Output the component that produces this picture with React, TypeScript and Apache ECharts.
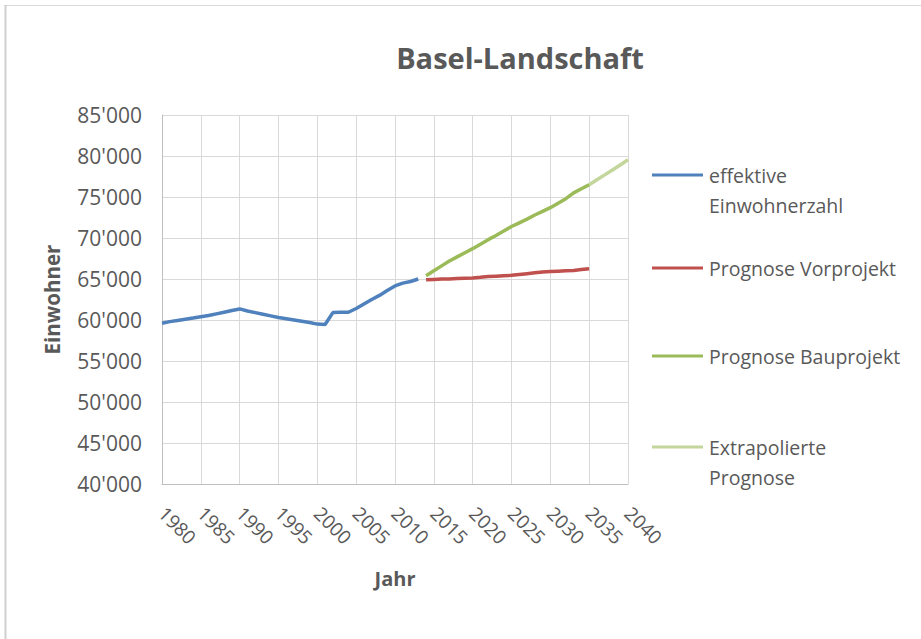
import React, { useEffect, useRef } from "react";
import * as echarts from "echarts";

const effYears = [1980,1981,1982,1983,1984,1985,1986,1987,1988,1989,1990,1991,1992,1993,1994,1995,1996,1997,1998,1999,2000,2001,2002,2003,2004,2005,2006,2007,2008,2009,2010,2011,2012,2013];
const effValues = [59600,59800,59950,60100,60250,60400,60550,60750,60950,61150,61350,61100,60900,60700,60500,60300,60150,60000,59850,59700,59500,59450,60900,60950,60950,61400,61950,62500,63000,63600,64150,64500,64700,65000];

const progYears = [2014,2015,2016,2017,2018,2019,2020,2021,2022,2023,2024,2025,2026,2027,2028,2029,2030,2031,2032,2033,2034,2035];
const vorValues = [64900,64950,65000,65000,65050,65100,65120,65200,65300,65350,65400,65450,65550,65650,65750,65850,65900,65950,66000,66050,66150,66250];
const bauValues = [65400,66000,66600,67200,67700,68200,68700,69250,69800,70300,70850,71400,71850,72300,72800,73250,73700,74250,74800,75500,76000,76500];

const extraYears = [2035,2036,2037,2038,2039,2040];
const extraValues = [76500,77100,77700,78300,78900,79550];

const seriesNames = ["effektive\nEinwohnerzahl", "Prognose Vorprojekt", "Prognose Bauprojekt", "Extrapolierte\nPrognose"];
const seriesColors = ["#4f81bd", "#c0504d", "#9bbb59", "#c3d69b"];

const xMin = 1980, xMax = 2040, xStep = 5;
const yMin = 40000, yMax = 85000, yStep = 5000;

const pairs = (xs: number[], ys: number[]) => xs.map((x, i) => [x, ys[i]]);

const FONT = "'Open Sans', sans-serif";
const GREY = "#595959";

export default function App() {
  const ref = useRef<HTMLDivElement>(null);
  useEffect(() => {
    if (!ref.current) return;
    const chart = echarts.init(ref.current, undefined, { renderer: "svg" });
    const data = [
      pairs(effYears, effValues),
      pairs(progYears, vorValues),
      pairs(progYears, bauValues),
      pairs(extraYears, extraValues),
    ];
    const legendY = [175, 268, 356, 447];
    const graphic: any[] = [
      { type: "line", shape: { x1: 4, y1: 5.5, x2: 921, y2: 5.5 }, style: { stroke: "#d9d9d9", lineWidth: 1 } },
      { type: "line", shape: { x1: 5.5, y1: 5, x2: 5.5, y2: 639 }, style: { stroke: "#d0d0d0", lineWidth: 2 } },
    ];
    seriesNames.forEach((n, i) => {
      graphic.push({ type: "line", shape: { x1: 652, y1: legendY[i], x2: 703, y2: legendY[i] }, style: { stroke: seriesColors[i], lineWidth: 3 } });
      graphic.push({ type: "text", x: 709, y: legendY[i] - 15, style: { text: n, fill: GREY, font: `19.5px ${FONT}`, lineHeight: 30, textVerticalAlign: "top" } });
    });
    chart.setOption({
      animation: false,
      backgroundColor: "#ffffff",
      title: {
        text: "Basel-Landschaft",
        left: 515,
        top: 38,
        textAlign: "center",
        textStyle: { fontFamily: FONT, fontSize: 29, fontWeight: "bold", color: GREY },
      },
      grid: { left: 162, right: 293, top: 115, bottom: 155 },
      xAxis: {
        type: "value",
        min: xMin,
        max: xMax,
        interval: xStep,
        name: "Jahr",
        nameLocation: "middle",
        nameGap: 84,
        nameTextStyle: { fontFamily: FONT, fontSize: 20, fontWeight: "bold", color: GREY },
        axisLine: { show: true, lineStyle: { color: "#bfbfbf" } },
        axisTick: { show: false },
        splitLine: { show: true, lineStyle: { color: "#d9d9d9" } },
        axisLabel: {
          rotate: -45,
          margin: 26,
          fontFamily: FONT,
          fontSize: 19,
          color: GREY,
          formatter: (v: number) => String(v),
        },
      },
      yAxis: {
        type: "value",
        min: yMin,
        max: yMax,
        interval: yStep,
        name: "Einwohner",
        nameLocation: "middle",
        nameGap: 100,
        nameTextStyle: { fontFamily: FONT, fontSize: 20.5, fontWeight: "bold", color: GREY },
        axisLine: { show: true, lineStyle: { color: "#bfbfbf" } },
        axisTick: { show: false },
        splitLine: { show: true, lineStyle: { color: "#d9d9d9" } },
        axisLabel: {
          margin: 20,
          fontFamily: FONT,
          fontSize: 21,
          color: GREY,
          formatter: (v: number) => `${Math.floor(v / 1000)}'${String(v % 1000).padStart(3, "0")}`,
        },
      },
      series: seriesNames.map((n, i) => ({
        name: n,
        type: "line",
        data: data[i],
        showSymbol: false,
        symbol: "none",
        lineStyle: { color: seriesColors[i], width: 3.5 },
        itemStyle: { color: seriesColors[i] },
        z: i === 3 ? 1 : 2,
      })),
      graphic,
    });
    return () => chart.dispose();
  }, []);
  return <div ref={ref} style={{ position: "fixed", left: 0, top: 0, width: 921, height: 639 }} />;
}
